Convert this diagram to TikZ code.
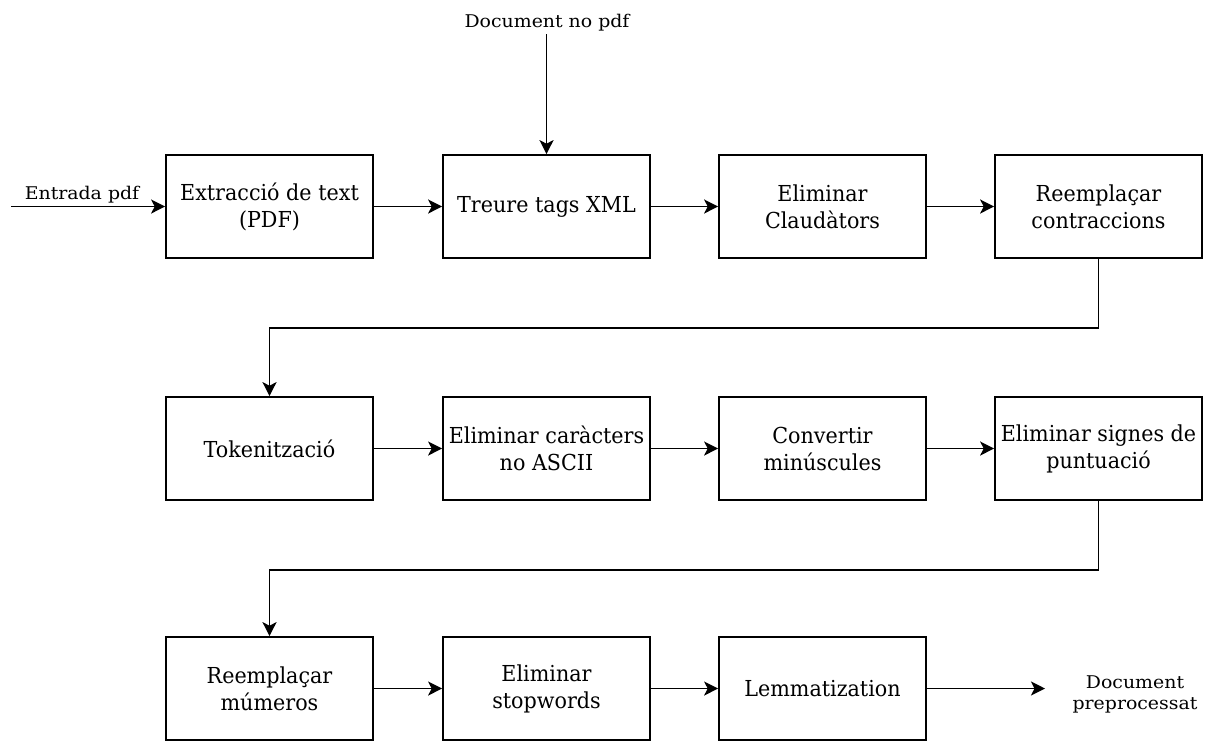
\documentclass[tikz,border=0pt]{standalone}
\usepackage{fontspec}
\setmainfont{DejaVu Serif}[FakeStretch=0.94]
\newfontfamily\lblfont{DejaVu Serif}[FakeStretch=1.08]
\usetikzlibrary{arrows.meta}
\begin{document}
\begin{tikzpicture}[x=1pt,y=-1pt,line width=1.7pt,
  stepbox/.style={draw,rectangle,minimum width=207pt,minimum height=103pt,
    align=center,inner sep=2pt,font=\fontsize{22}{27}\selectfont},
  lbl/.style={align=center,inner sep=0pt,font=\lblfont\fontsize{17.5}{21}\selectfont},
  arr/.style={-{Stealth[length=14pt,width=14pt,inset=3.5pt]}}]
\useasboundingbox (0,0) rectangle (1206,740);

% first row
\node[stepbox] (b1) at (269.5,206.5) {Extracció de text\\(PDF)};
\node[stepbox] (b2) at (546.5,206.5) {Treure tags XML};
\node[stepbox] (b3) at (822.5,206.5) {Eliminar\\Claudàtors};
\node[stepbox] (b4) at (1098.5,206.5) {Reemplaçar\\contraccions};
% second row
\node[stepbox] (b5) at (269.5,448.5) {Tokenització};
\node[stepbox] (b6) at (546.5,448.5) {Eliminar caràcters\\no ASCII};
\node[stepbox] (b7) at (822.5,448.5) {Convertir\\minúscules};
\node[stepbox] (b8) at (1098.5,448.5) {Eliminar signes de\\puntuació};
% third row
\node[stepbox] (b9) at (269.5,688.5) {Reemplaçar\\múmeros};
\node[stepbox] (b10) at (546.5,688.5) {Eliminar\\stopwords};
\node[stepbox] (b11) at (822.5,688.5) {Lemmatization};

% inputs and output
\coordinate (in) at (11,206.5);
\node[lbl,anchor=base] (inlbl) at (82,199) {Entrada pdf};
\node[lbl,anchor=base] (toplbl) at (547,27) {Document no pdf};
\coordinate (top) at (546.5,34);
\coordinate (out) at (1045,688.5);
\node[lbl] (outlbl) at (1135,694) {Document\\preprocessat};

% connectors
\draw[arr] (in) -- (b1.west);
\draw[arr] (top) -- (b2.north);
\draw[arr] (b1) -- (b2);
\draw[arr] (b2) -- (b3);
\draw[arr] (b3) -- (b4);
\draw[arr] (b4.south) -- ++(0,69) -| (b5.north);
\draw[arr] (b5) -- (b6);
\draw[arr] (b6) -- (b7);
\draw[arr] (b7) -- (b8);
\draw[arr] (b8.south) -- ++(0,69) -| (b9.north);
\draw[arr] (b9) -- (b10);
\draw[arr] (b10) -- (b11);
\draw[arr] (b11) -- (out);
\end{tikzpicture}
\end{document}
